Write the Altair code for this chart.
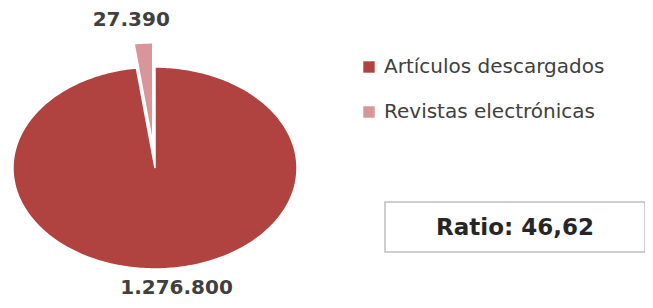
import math
import altair as alt

# ---- data ----
categories = ["Artículos descargados", "Revistas electrónicas"]
values = [1276800, 27390]
value_labels = ["1.276.800", "27.390"]
colors = ["#B0433F", "#D8969A"]
explode = [0.0, 0.24]

ratio = values[0] / values[1]
ratio_text = "Ratio: " + f"{ratio:.2f}".replace(".", ",")

K = 0.711  # vertical/horizontal ratio of the (stretched) pie

total = sum(values)
features = []
label_rows = []
start = 0.0
for cat, v, ex, lab in zip(categories, values, explode, value_labels):
    a0 = start
    a1 = start + 360.0 * v / total
    mid = math.radians((a0 + a1) / 2)
    ox, oy = ex * math.sin(mid), ex * math.cos(mid)
    n = max(2, int((a1 - a0) / 1.0) + 1)
    pts = [[ox, oy * K]]
    for i in range(n + 1):
        t = math.radians(a0 + (a1 - a0) * i / n)
        pts.append([ox + math.sin(t), (oy + math.cos(t)) * K])
    pts.append([ox, oy * K])
    features.append({
        "type": "Feature",
        "properties": {"category": cat},
        "geometry": {"type": "Polygon", "coordinates": [pts]},
    })
    r = 1.23 + ex
    label_rows.append({"category": cat, "label": lab,
                       "lon": r * math.sin(mid), "lat": r * math.cos(mid) * K})
    start = a1

proj = alt.Projection(type="identity", scale=142, translate=[147, 160], reflectY=True)

color = alt.Color(
    "properties.category:N",
    scale=alt.Scale(domain=categories, range=colors),
    legend=alt.Legend(
        orient="none", legendX=351, legendY=49, title=None,
        symbolType="square", symbolSize=130, symbolStrokeWidth=0,
        labelFontSize=20, labelFont="DejaVu Sans", labelColor="#404040",
        rowPadding=25, labelLimit=400, padding=0, labelOffset=5,
    ),
)

pie = alt.Chart(alt.Data(values=features)).mark_geoshape(
    stroke="white", strokeWidth=1.5
).encode(color=color).properties(projection=proj)

lab_big = alt.Chart(alt.Data(values=[label_rows[0]])).mark_text(
    font="DejaVu Sans", fontSize=20, fontWeight="bold", color="#404040", dx=10, dy=-4
).encode(longitude="lon:Q", latitude="lat:Q", text="label:N").properties(projection=proj)

lab_small = alt.Chart(alt.Data(values=[label_rows[1]])).mark_text(
    font="DejaVu Sans", fontSize=20, fontWeight="bold", color="#404040", dx=-10
).encode(longitude="lon:Q", latitude="lat:Q", text="label:N").properties(projection=proj)

box = alt.Chart(alt.Data(values=[{"t": ratio_text}])).mark_rect(
    fill="white", stroke="#BFBFBF", strokeWidth=1.5
).encode(x=alt.value(377), x2=alt.value(637), y=alt.value(194), y2=alt.value(244))

box_text = alt.Chart(alt.Data(values=[{"t": ratio_text}])).mark_text(
    font="DejaVu Sans", fontSize=23, fontWeight="bold", color="#262626"
).encode(x=alt.value(507), y=alt.value(220), text="t:N")

chart = alt.layer(pie, lab_big, lab_small, box, box_text).properties(
    width=637, height=292,
    autosize=alt.AutoSizeParams(type="none"),
    padding=0,
).configure_view(stroke=None)

chart.save("out.html", embed_options={"renderer": "svg", "actions": False})
